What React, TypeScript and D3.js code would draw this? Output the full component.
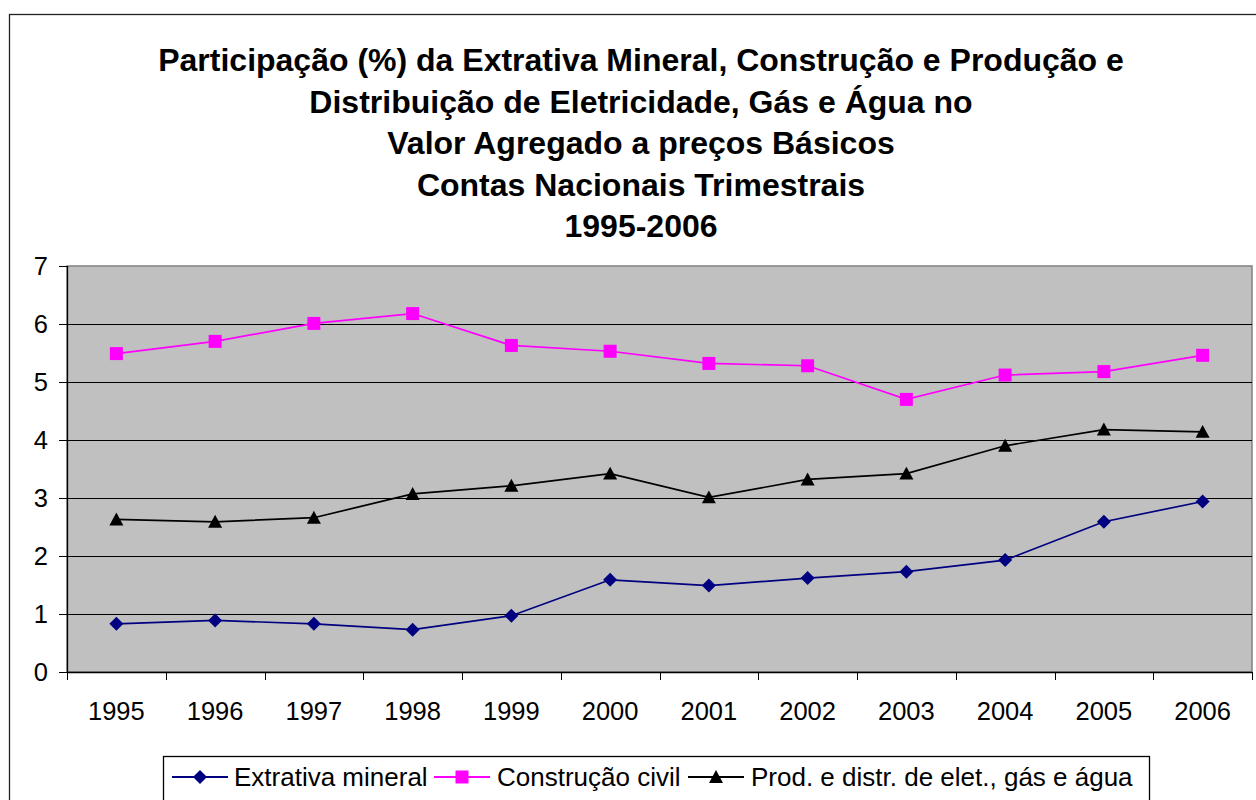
import React from "react";
import * as d3 from "d3";

const years = ["1995","1996","1997","1998","1999","2000","2001","2002","2003","2004","2005","2006"];
const extrativa = [0.83, 0.89, 0.83, 0.73, 0.97, 1.59, 1.49, 1.62, 1.73, 1.93, 2.59, 2.94];
const construcao = [5.49, 5.70, 6.01, 6.18, 5.63, 5.53, 5.32, 5.28, 4.70, 5.12, 5.18, 5.46];
const eletricidade = [2.63, 2.59, 2.66, 3.07, 3.21, 3.42, 3.01, 3.32, 3.42, 3.90, 4.18, 4.14];
const yTicks = [0, 1, 2, 3, 4, 5, 6, 7];
const titleLines = [
  "Participação (%) da Extrativa Mineral, Construção e Produção e",
  "Distribuição de Eletricidade, Gás e Água no",
  "Valor Agregado a preços Básicos",
  "Contas Nacionais Trimestrais",
  "1995-2006",
];
const seriesNames = ["Extrativa mineral", "Construção civil", "Prod. e distr. de elet., gás e água"];

const W = 1256, H = 800;
const L = 67, R = 1252, T = 266, B = 672;
const FONT = "'Liberation Sans', Arial, sans-serif";

function Marker({ kind, x, y, color }: { kind: string; x: number; y: number; color: string }) {
  if (kind === "diamond") {
    const s = 7;
    return <path d={`M${x},${y - s}L${x + s},${y}L${x},${y + s}L${x - s},${y}Z`} fill={color} />;
  }
  if (kind === "square") {
    const s = 6.5;
    return <rect x={x - s} y={y - s} width={2 * s} height={2 * s} fill={color} />;
  }
  const s = 7;
  return <path d={`M${x},${y - s}L${x + s},${y + s * 0.85}L${x - s},${y + s * 0.85}Z`} fill={color} />;
}

export default function App() {
  const x = d3.scaleBand<string>().domain(years).range([L, R]).padding(0);
  const y = d3.scaleLinear().domain([0, 7]).range([B, T]);
  const cx = (d: string) => (x(d) as number) + x.bandwidth() / 2;
  const line = d3.line<number>().x((_, i) => cx(years[i])).y((v) => y(v));

  const series = [
    { name: seriesNames[0], data: extrativa, color: "#000080", kind: "diamond" },
    { name: seriesNames[1], data: construcao, color: "#FF00FF", kind: "square" },
    { name: seriesNames[2], data: eletricidade, color: "#000000", kind: "triangle" },
  ];

  const legendItems = [
    { x0: 172, tx: 234 },
    { x0: 434, tx: 497 },
    { x0: 688, tx: 751 },
  ];

  return (
    <svg width={W} height={H} style={{ position: "absolute", left: 0, top: 0, fontFamily: FONT }}>
      <rect x={0} y={0} width={W} height={H} fill="#fff" />
      <rect x={9.5} y={14.5} width={W + 20} height={H + 20} fill="#fff" stroke="#222" strokeWidth={1.3} />
      {titleLines.map((t, i) => (
        <text key={i} x={641} y={71 + i * 41.5} textAnchor="middle" fontWeight="bold" fontSize={32} fill="#000">
          {t}
        </text>
      ))}
      <rect x={L} y={T} width={R - L} height={B - T} fill="#C0C0C0" stroke="#808080" strokeWidth={1.5} />
      {yTicks.slice(1, -1).map((t) => (
        <line key={t} x1={L} x2={R} y1={Math.round(y(t)) + 0.5} y2={Math.round(y(t)) + 0.5} stroke="#000" strokeWidth={1} />
      ))}
      <line x1={L + 0.5} x2={L + 0.5} y1={T} y2={B} stroke="#000" strokeWidth={1.3} />
      <line x1={L} x2={R} y1={B + 0.5} y2={B + 0.5} stroke="#000" strokeWidth={1.3} />
      {yTicks.map((t) => (
        <g key={t}>
          <line x1={L - 8} x2={L} y1={Math.round(y(t)) + 0.5} y2={Math.round(y(t)) + 0.5} stroke="#000" />
          <text x={48} y={y(t) + 9} textAnchor="end" fontSize={25.5} fill="#000">{t}</text>
        </g>
      ))}
      {years.concat(["end"]).map((d, i) => {
        const xx = i < years.length ? (x(d) as number) : R;
        return <line key={i} x1={Math.round(xx) + 0.5} x2={Math.round(xx) + 0.5} y1={B} y2={B + 8} stroke="#000" />;
      })}
      {years.map((d) => (
        <text key={d} x={cx(d)} y={720} textAnchor="middle" fontSize={25.5} fill="#000">{d}</text>
      ))}
      {series.map((s) => (
        <g key={s.name}>
          <path d={line(s.data) || ""} fill="none" stroke={s.color} strokeWidth={1.7} />
          {s.data.map((v, i) => (
            <Marker key={i} kind={s.kind} x={cx(years[i])} y={y(v)} color={s.color} />
          ))}
        </g>
      ))}
      <rect x={163.5} y={756.5} width={986} height={60} fill="#fff" stroke="#000" strokeWidth={1.3} />
      {series.map((s, i) => (
        <g key={s.name}>
          <line x1={legendItems[i].x0} x2={legendItems[i].x0 + 56} y1={777} y2={777} stroke={s.color} strokeWidth={2} />
          <Marker kind={s.kind} x={legendItems[i].x0 + 28} y={777} color={s.color} />
          <text x={legendItems[i].tx} y={786} fontSize={26} fill="#000">{s.name}</text>
        </g>
      ))}
    </svg>
  );
}
